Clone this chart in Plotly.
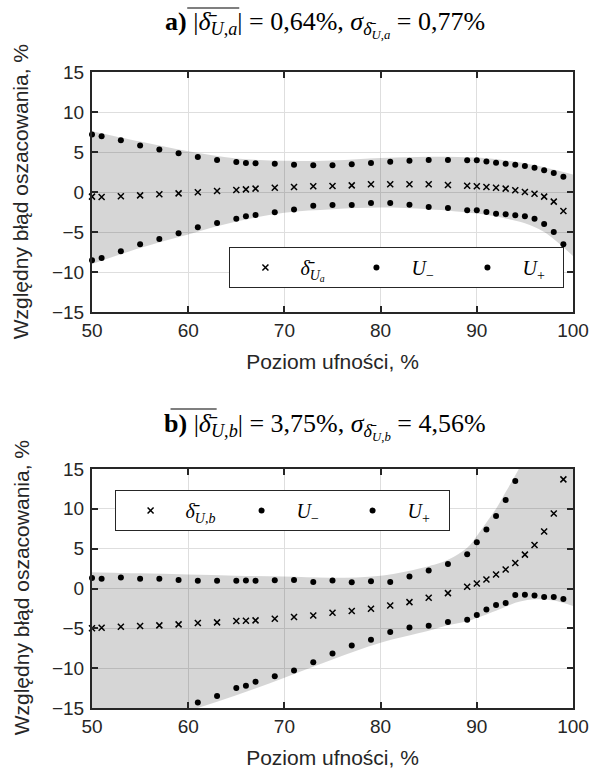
import plotly.graph_objects as go

# ---------------- data ----------------
conf = [50, 51, 53, 55, 57, 59, 61, 63, 65, 66, 67, 69, 71, 73, 75, 77, 79, 81,
        83, 85, 87, 89, 90, 91, 92, 93, 94, 95, 96, 97, 98, 99]

delta_a = [-0.58, -0.63, -0.54, -0.42, -0.29, -0.17, -0.04, 0.13, 0.25, 0.33, 0.42,
           0.54, 0.63, 0.71, 0.75, 0.83, 0.96, 0.96, 0.96, 0.96, 0.88, 0.79, 0.71,
           0.63, 0.54, 0.42, 0.21, 0.0, -0.21, -0.58, -1.2, -2.37]
u_minus_a = [-8.54, -8.25, -7.42, -6.54, -5.88, -5.17, -4.42, -3.88, -3.33, -3.04,
             -2.88, -2.54, -2.2, -1.71, -1.63, -1.63, -1.38, -1.38, -1.58, -1.88,
             -2.0, -2.29, -2.29, -2.5, -2.71, -2.79, -2.92, -3.04, -3.33, -4.0,
             -5.0, -6.54]
u_plus_a = [7.2, 6.96, 6.46, 5.8, 5.3, 4.83, 4.37, 4.0, 3.75, 3.63, 3.58, 3.54, 3.42,
            3.33, 3.33, 3.46, 3.63, 3.79, 3.92, 4.0, 4.0, 3.96, 3.96, 3.8, 3.67, 3.54,
            3.42, 3.25, 3.04, 2.71, 2.37, 1.9]

delta_b = [-5.0, -4.92, -4.79, -4.71, -4.63, -4.5, -4.33, -4.25, -4.08, -4.04, -4.0,
           -3.79, -3.58, -3.38, -3.04, -2.83, -2.54, -2.13, -1.71, -1.17, -0.58, 0.21,
           0.63, 1.13, 1.75, 2.38, 3.2, 4.25, 5.46, 7.15, 9.42, 13.7]
u_minus_b = [None, None, None, None, None, None, -14.3, -13.5, -12.5, -12.2, -11.7,
             -11.0, -10.3, -9.25, -8.17, -7.17, -6.42, -5.46, -4.88, -4.67, -4.21,
             -3.92, -3.33, -2.63, -2.08, -1.83, -0.83, -0.79, -0.88, -1.08, -1.08,
             -1.33]
u_plus_b = [1.33, 1.21, 1.38, 1.21, 1.21, 1.08, 0.96, 0.96, 0.96, 1.0, 0.96, 1.04,
            1.08, 0.83, 1.0, 0.79, 0.92, 0.83, 1.5, 2.25, 3.08, 4.3, 5.8, 7.4, 9.1,
            11.1, 13.5, None, None, None, None, None]

band_x_a = [50, 55, 60, 65, 70, 75, 80, 85, 90, 93, 95, 97, 100]
band_hi_a = [7.6, 6.3, 5.1, 4.2, 3.9, 3.95, 4.25, 4.4, 4.3, 3.95, 3.6, 3.1, 2.2]
band_lo_a = [-9.0, -7.0, -5.3, -3.7, -2.6, -2.15, -1.95, -2.15, -2.7, -3.3, -3.9, -5.0, -8.0]

band_x_b = [50, 55, 60, 65, 70, 75, 80, 85, 87, 89, 90, 91, 92, 93, 94, 95, 96, 98, 100]
band_hi_b = [2.05, 1.9, 1.75, 1.6, 1.5, 1.35, 1.6, 2.8, 3.6, 5.1, 6.6, 8.3, 10.0, 12.1,
             14.2, 16.5, 19.0, 24.0, 30.0]
band_lo_b = [-19.6, -17.5, -15.4, -13.4, -11.2, -8.9, -6.8, -5.3, -4.6, -4.1, -3.7,
             -3.25, -2.8, -2.3, -1.8, -1.5, -1.35, -1.5, -2.2]

x_ticks = [50, 60, 70, 80, 90, 100]
y_ticks = [-15, -10, -5, 0, 5, 10, 15]

title_a = ("<b>a)</b> |<i>δ̄</i><sub><i>U</i>,<i>a</i></sub>| = 0,64%, "
           "<i>σ</i><sub><i>δ̄</i><sub><i>U</i>,<i>a</i></sub></sub> = 0,77%")
title_b = ("<b>b)</b> |<i>δ̄</i><sub><i>U</i>,<i>b</i></sub>| = 3,75%, "
           "<i>σ</i><sub><i>δ̄</i><sub><i>U</i>,<i>b</i></sub></sub> = 4,56%")
leg_a = ["<i>δ̄</i><sub><i>U<sub>a</sub></i></sub>", "<i>U</i><sub>−</sub>", "<i>U</i><sub>+</sub>"]
leg_b = ["<i>δ̄</i><sub><i>U</i>,<i>b</i></sub>", "<i>U</i><sub>−</sub>", "<i>U</i><sub>+</sub>"]
x_title = "Poziom ufności, %"
y_title = "Względny błąd oszacowania, %"

# ---------------- figure ----------------
W, H = 601, 780
ML, MR, MT, MB = 92, 19, 72, 72
PW, PH = W - ML - MR, H - MT - MB


def py(pix):
    return (H - MB - pix) / PH


def px(pix):
    return (pix - ML) / PW


BAND = "rgba(0,0,0,0.16)"
INK = "#262626"
fig = go.Figure()

panels = [
    ("x", "y", "legend", band_x_a, band_hi_a, band_lo_a, delta_a, u_minus_a, u_plus_a, leg_a),
    ("x2", "y2", "legend2", band_x_b, band_hi_b, band_lo_b, delta_b, u_minus_b, u_plus_b, leg_b),
]
for xa, ya, lg, bx, bhi, blo, d, um, up, names in panels:
    fig.add_trace(go.Scatter(x=bx, y=blo, xaxis=xa, yaxis=ya, mode="lines",
                             line=dict(width=0, shape="spline", smoothing=1.0),
                             showlegend=False, hoverinfo="skip"))
    fig.add_trace(go.Scatter(x=bx, y=bhi, xaxis=xa, yaxis=ya, mode="lines",
                             fill="tonexty", fillcolor=BAND,
                             line=dict(width=0, shape="spline", smoothing=1.0),
                             showlegend=False, hoverinfo="skip"))
    fig.add_trace(go.Scatter(x=conf, y=d, xaxis=xa, yaxis=ya, mode="markers", name=names[0],
                             legend=lg, cliponaxis=False,
                             marker=dict(symbol="x-thin", size=6, color="black",
                                         line=dict(width=1.5, color="black"))))
    fig.add_trace(go.Scatter(x=conf, y=um, xaxis=xa, yaxis=ya, mode="markers", name=names[1],
                             legend=lg, cliponaxis=False,
                             marker=dict(symbol="circle", size=6, color="black")))
    fig.add_trace(go.Scatter(x=conf, y=up, xaxis=xa, yaxis=ya, mode="markers", name=names[2],
                             legend=lg, cliponaxis=False,
                             marker=dict(symbol="circle", size=6, color="black")))

axis_common = dict(
    showline=True, linecolor=INK, linewidth=2, mirror="ticks",
    ticks="inside", ticklen=6, tickwidth=1.5, tickcolor=INK,
    showgrid=True, gridcolor="#dedede", gridwidth=1, zeroline=False,
    tickfont=dict(family="Liberation Sans", size=19, color=INK),
)
xa_common = dict(axis_common, range=[50, 100], tickvals=x_ticks,
                 title=dict(text=x_title, standoff=15,
                            font=dict(family="Liberation Sans", size=21, color=INK)))
ya_common = dict(axis_common, range=[-15, 15], tickvals=y_ticks, ticklabelstandoff=2)

top_dom = [py(312), 1.0]
bot_dom = [0.0, py(469)]

leg_common = dict(orientation="h", bgcolor="white", bordercolor=INK, borderwidth=1,
                  font=dict(family="Liberation Serif", size=20, color="black"),
                  entrywidth=36, itemwidth=60, xanchor="left", yanchor="top",
                  traceorder="normal")

fig.update_layout(
    width=W, height=H, margin=dict(l=ML, r=MR, t=MT, b=MB),
    paper_bgcolor="white", plot_bgcolor="white", hovermode=False,
    xaxis=dict(xa_common, domain=[0, 1], anchor="y"),
    yaxis=dict(ya_common, domain=top_dom, anchor="x"),
    xaxis2=dict(xa_common, domain=[0, 1], anchor="y2"),
    yaxis2=dict(ya_common, domain=bot_dom, anchor="x2"),
    legend=dict(leg_common, x=px(232), y=py(247)),
    legend2=dict(leg_common, x=px(115), y=py(490)),
)

ann_font = dict(family="Liberation Serif", size=26, color="black")
fig.add_annotation(text=title_a, xref="paper", yref="paper", x=px(329), y=py(25),
                   showarrow=False, font=ann_font, xanchor="center", yanchor="middle")
fig.add_annotation(text=title_b, xref="paper", yref="paper", x=px(329), y=py(426),
                   showarrow=False, font=ann_font, xanchor="center", yanchor="middle")
for cy in (192, 588):
    fig.add_annotation(text=y_title, xref="paper", yref="paper", x=px(20), y=py(cy),
                       textangle=-90, showarrow=False,
                       font=dict(family="Liberation Sans", size=21, color=INK),
                       xanchor="center", yanchor="middle")

# overlines of the mean-absolute-error symbol in the titles
for x0, x1, yy in ((189, 242, 8), (172, 219, 409)):
    fig.add_shape(type="line", xref="paper", yref="paper", x0=px(x0), x1=px(x1),
                  y0=py(yy), y1=py(yy), line=dict(color="black", width=1.2))

fig.write_html("out.html", config={"displayModeBar": False},
               post_script="document.body.style.margin='0px';")
